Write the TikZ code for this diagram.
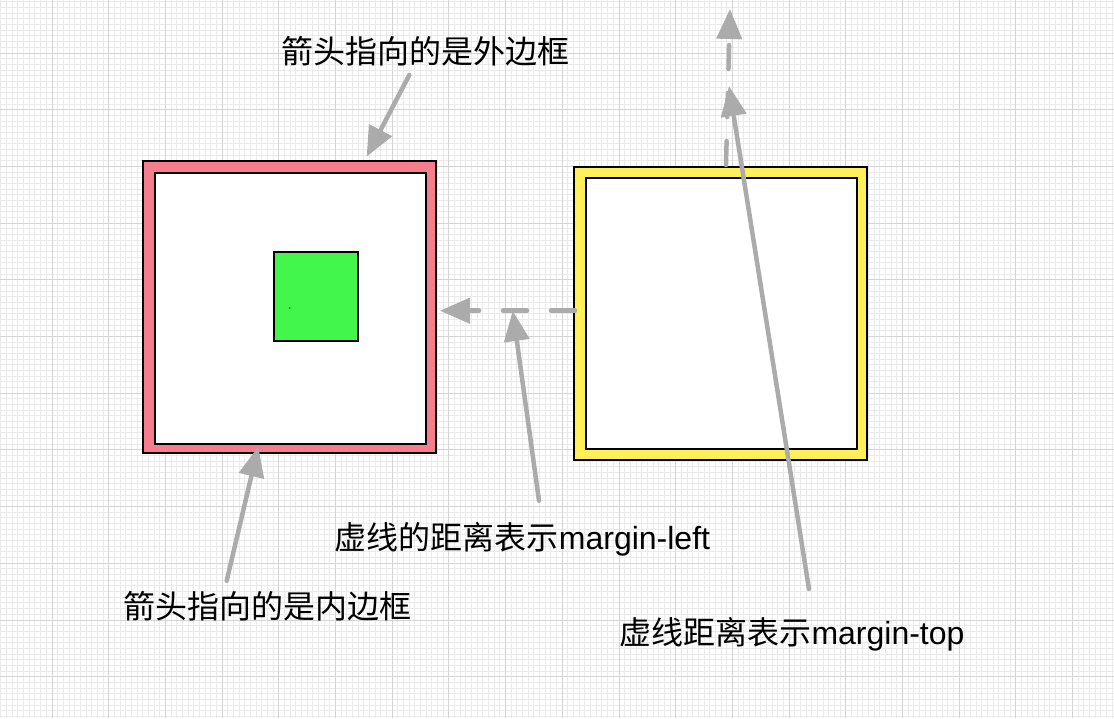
\documentclass[tikz,border=0pt]{standalone}
\usepackage{fontspec}
\setmainfont{Liberation Sans}
\newfontfamily\cjk{Noto Sans CJK SC}
\usetikzlibrary{arrows.meta}
\definecolor{gridminor}{RGB}{234,234,234}
\definecolor{gridmajor}{RGB}{212,212,212}
\definecolor{pinkc}{RGB}{245,125,140}
\definecolor{yellowc}{RGB}{255,240,90}
\definecolor{greenc}{RGB}{66,246,76}
\definecolor{arrowgray}{RGB}{171,171,171}
\begin{document}
\begin{tikzpicture}[x=1pt,y=-1pt,
  box/.style={draw=black,line width=2pt,inner sep=0pt,outer sep=0pt},
  conn/.style={draw=arrowgray,line width=4.5pt,line cap=round,-{Triangle[length=30pt,width=25pt]}},
  dashconn/.style={conn,dash pattern=on 24pt off 24pt},
  lbl/.style={anchor=base,inner sep=0pt,font=\fontsize{32}{38}\selectfont}]
\useasboundingbox (0,0) rectangle (1114,718);
\fill[white] (0,0) rectangle (1114,718);
\begin{scope}
\clip (0,0) rectangle (1114,718);
\foreach \i in {0,...,197} \draw[gridminor,line width=1pt] ({-4.7+5.67*\i},0) -- ({-4.7+5.67*\i},718);
\foreach \i in {0,...,128} \draw[gridminor,line width=1pt] (0,{-3.7+5.67*\i}) -- (1114,{-3.7+5.67*\i});
\foreach \i in {0,...,20} \draw[gridmajor,line width=1pt] ({-4.7+56.7*\i},0) -- ({-4.7+56.7*\i},718);
\foreach \i in {0,...,13} \draw[gridmajor,line width=1pt] (0,{-3.7+56.7*\i}) -- (1114,{-3.7+56.7*\i});
\end{scope}

% boxes
\node[box,fill=pinkc,minimum width=293pt,minimum height=292pt] (pinkO) at (289.5,307) {};
\node[box,fill=white,minimum width=271pt,minimum height=270.5pt] (pinkI) at (290.5,308.25) {};
\node[box,fill=greenc,minimum width=84pt,minimum height=89.5pt] (green) at (315.5,296.25) {};
\fill[black!80] (289.7,308) circle (0.9pt);
\node[box,fill=yellowc,minimum width=293pt,minimum height=293pt] (yellowO) at (720.5,313.5) {};
\node[box,fill=white,minimum width=270.5pt,minimum height=271pt] (yellowI) at (721.25,313.5) {};

% labels
\node[lbl] (lblOuter) at (425.5,63) {\cjk 箭头指向的是外边框};
\node[lbl] (lblInner) at (267.5,618) {\cjk 箭头指向的是内边框};
\node[lbl] (lblLeft) at (522.5,549.3) {{\cjk 虚线的距离表示}margin-left};
\node[lbl] (lblTop) at (792,644.5) {{\cjk 虚线距离表示}margin-top};

% connector ends
\coordinate (a1s) at (409.3,75);
\coordinate (a1e) at (366.7,156.7);
\coordinate (a2s) at (726,165);
\coordinate (a2e) at (730,9);
\coordinate (a3s) at (809,589);
\coordinate (a3e) at (729,86);
\coordinate (a4s) at (575,310.7);
\coordinate (a4e) at (440,310.7);
\coordinate (a5s) at (539,500.7);
\coordinate (a5e) at (512.7,311);
\coordinate (a6s) at (226.7,580.7);
\coordinate (a6e) at (258.3,446.7);

\draw[conn] (a1s) -- (a1e);
\draw[dashconn] (a2s) -- (a2e);
\draw[dashconn] (a4s) -- (a4e);
\draw[conn] (a3s) -- (a3e);
\draw[conn] (a5s) -- (a5e);
\draw[conn] (a6s) -- (a6e);
\end{tikzpicture}
\end{document}
